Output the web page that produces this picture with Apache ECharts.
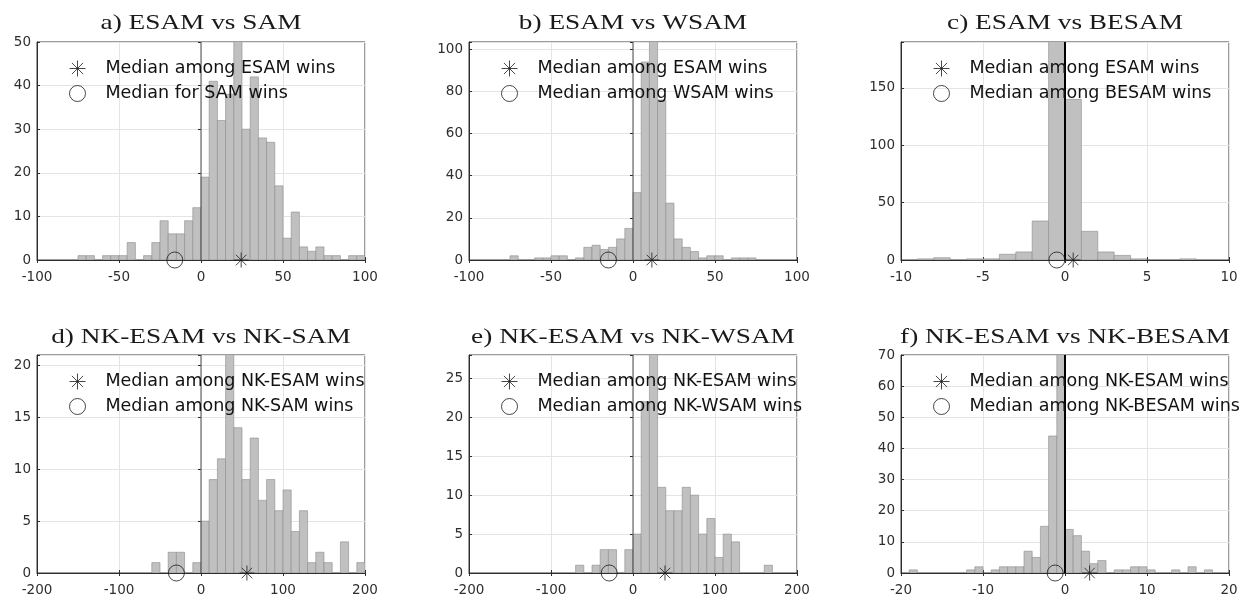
<!DOCTYPE html>
<html><head><meta charset="utf-8">
<script src="https://cdn.jsdelivr.net/npm/echarts@6/dist/echarts.min.js"></script>
<style>html,body{margin:0;padding:0;background:#fff}#c{width:1247px;height:601px}</style>
</head><body><div id="c"></div>
<script>
// ---- data ----
const titles = ['a) ESAM vs SAM','b) ESAM vs WSAM','c) ESAM vs BESAM','d) NK-ESAM vs NK-SAM','e) NK-ESAM vs NK-WSAM','f) NK-ESAM vs NK-BESAM'];
const legendStar = ['Median among ESAM wins','Median among ESAM wins','Median among ESAM wins','Median among NK-ESAM wins','Median among NK-ESAM wins','Median among NK-ESAM wins'];
const legendCircle = ['Median for SAM wins','Median among WSAM wins','Median among BESAM wins','Median among NK-SAM wins','Median among NK-WSAM wins','Median among NK-BESAM wins'];

const startA = -75, widthA = 5;
const countsA = [1,1,0,1,1,1,4,0,1,4,9,6,6,9,12,19,41,32,38,56,30,42,28,27,17,5,11,3,2,3,1,1,0,1,1];
const startB = -75, widthB = 5;
const countsB = [2,0,0,1,1,2,2,0,1,6,7,5,6,10,15,32,94,112,76,27,10,6,4,1,2,2,0,1,1,1];
const startC = -10, widthC = 1;
const countsC = [0,1,2,0,1,1,5,7,34,230,140,25,7,4,1,0,0,1];
const startD = -60, widthD = 10;
const countsD = [1,0,2,2,0,1,5,9,11,23,14,9,13,7,9,6,8,4,6,1,2,1,0,3,0,1];
const startE = -70, widthE = 10;
const countsE = [1,0,1,3,3,0,3,5,22,31,11,8,8,11,10,5,7,2,5,4,0,0,0,1];
const startF = -19, widthF = 1;
const countsF = [1,0,0,0,0,0,0,1,2,0,1,2,2,2,7,5,15,44,80,14,12,7,3,4,0,1,1,2,2,1,0,0,1,0,2,0,1];

const medianStar = [24.5, 11.5, 0.5, 56, 39, 3];
const medianCircle = [-16, -15, -0.5, -30, -29, -1.2];

const xMin = [-100,-100,-10,-200,-200,-20];
const xMax = [100,100,10,200,200,20];
const xStep = [50,50,5,100,100,10];
const yMax = [50,103.5,190,21,28,70];
const yStep = [10,20,50,5,5,10];

// ---- chart ----
const hists = [
  [startA,widthA,countsA],[startB,widthB,countsB],[startC,widthC,countsC],
  [startD,widthD,countsD],[startE,widthE,countsE],[startF,widthF,countsF]
];
const COLS = [37,469,901], ROWS = [42,355], W = 328, H = 218;
const TITLE_Y = [23,337];
const STAR = 'path://M10,0L10,20M0,10L20,10M3,3L17,17M3,17L17,3';
const AX = '#2e2e2e';
const FONT = 'DejaVu Sans';

const grid=[], xAxis=[], yAxis=[], series=[], legend=[], graphic=[];
for (let i=0;i<6;i++){
  const gl = COLS[i%3], gt = ROWS[Math.floor(i/3)];
  grid.push({left:gl, top:gt, width:W, height:H, show:true, borderColor:'#3a3a3a', borderWidth:1, backgroundColor:'#fff'});
  const fmtY = v => (Math.abs(v/yStep[i]-Math.round(v/yStep[i]))<1e-9 ? String(v) : '');
  xAxis.push({gridIndex:i, type:'value', min:xMin[i], max:xMax[i], interval:xStep[i],
    axisLine:{show:true, onZero:false, lineStyle:{color:AX}},
    axisTick:{show:true, inside:true, length:3, lineStyle:{color:AX}},
    axisLabel:{color:AX, fontFamily:FONT, fontSize:13.5, margin:10},
    splitLine:{show:true, lineStyle:{color:'#e4e4e4', width:1}}});
  xAxis.push({gridIndex:i, type:'value', position:'top', min:xMin[i], max:xMax[i], interval:xStep[i],
    axisLine:{show:false}, axisTick:{show:true, inside:true, length:3, lineStyle:{color:AX}},
    axisLabel:{show:false}, splitLine:{show:false}});
  yAxis.push({gridIndex:i, type:'value', min:0, max:yMax[i], interval:yStep[i],
    axisLine:{show:true, onZero:false, lineStyle:{color:AX}},
    axisTick:{show:true, inside:true, length:3, lineStyle:{color:AX}},
    axisLabel:{color:AX, fontFamily:FONT, fontSize:13.5, margin:6, formatter:fmtY},
    splitLine:{show:true, lineStyle:{color:'#e4e4e4', width:1}}});
  yAxis.push({gridIndex:i, type:'value', position:'right', min:0, max:yMax[i], interval:yStep[i],
    axisLine:{show:false}, axisTick:{show:true, inside:true, length:3, lineStyle:{color:AX}},
    axisLabel:{show:false}, splitLine:{show:false}});

  const [st, bw, cnt] = hists[i];
  series.push({type:'custom', xAxisIndex:2*i, yAxisIndex:2*i, clip:true, silent:true, z:2,
    data: cnt.map((c,k)=>[st+k*bw, st+(k+1)*bw, c]),
    encode:{x:[0,1], y:2},
    renderItem:(params, api)=>{
      const c = api.value(2);
      if (!c) return null;
      const p0 = api.coord([api.value(0), c]);
      const p1 = api.coord([api.value(1), 0]);
      return {type:'rect', shape:{x:p0[0], y:p0[1], width:p1[0]-p0[0], height:p1[1]-p0[1]},
        style:{fill:'#c0c0c0', stroke:'#8c8c8c', lineWidth:0.6}};
    }});
  const thick = (i===2 || i===5);
  series.push({type:'line', xAxisIndex:2*i, yAxisIndex:2*i, silent:true, z:3,
    data:[[0,0],[0,yMax[i]]], symbol:'none',
    lineStyle:{color: thick ? '#000' : '#4a4a4a', width: thick ? 2 : 1}});
  series.push({type:'scatter', name:legendStar[i], xAxisIndex:2*i, yAxisIndex:2*i, clip:false, z:5, silent:true,
    data:[[medianStar[i],0]], symbol:STAR, symbolSize:15,
    itemStyle:{color:'rgba(0,0,0,0)', borderColor:'#1a1a1a', borderWidth:1}});
  series.push({type:'scatter', name:legendCircle[i], xAxisIndex:2*i, yAxisIndex:2*i, clip:false, z:5, silent:true,
    data:[[medianCircle[i],0]], symbol:'circle', symbolSize:16,
    itemStyle:{color:'rgba(0,0,0,0)', borderColor:'#1a1a1a', borderWidth:1}});

  legend.push({data:[legendStar[i], legendCircle[i]], orient:'vertical', left:gl+32, top:gt+17.5, padding:0,
    itemWidth:46, itemHeight:16, itemGap:7, selectedMode:false, symbolKeepAspect:true,
    itemStyle:{borderWidth:1, borderColor:'#1a1a1a', color:'rgba(0,0,0,0)'},
    textStyle:{fontFamily:FONT, fontSize:17.5, color:'#111'}});

  graphic.push({type:'text', x: gl + W/2, y: TITLE_Y[Math.floor(i/3)], scaleX:1.3, scaleY:1, silent:true,
    style:{text:titles[i], fontFamily:'Liberation Serif', fontSize:21, fill:'#1a1a1a', align:'center', verticalAlign:'middle'}});
}

const chart = echarts.init(document.getElementById('c'));
chart.setOption({animation:false, backgroundColor:'#fff', grid, xAxis, yAxis, series, legend, graphic});
</script>
</body></html>
